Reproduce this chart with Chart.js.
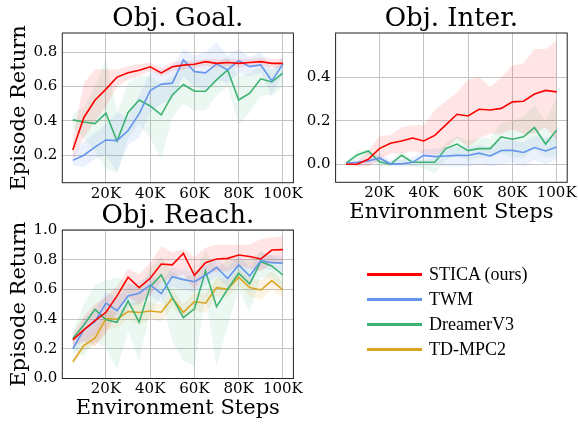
<!DOCTYPE html>
<html>
<head>
<meta charset="utf-8">
<script src="https://cdn.jsdelivr.net/npm/chart.js@4.4.1/dist/chart.umd.min.js"></script>
<style>
  body { margin: 0; background: #fff; }
  #wrap { position: relative; width: 578px; height: 424px; overflow: hidden; }
  canvas { position: absolute; left: 0; top: 0; pointer-events: none; }
  #legend { position: absolute; left: 367px; top: 262px; font-family: 'Liberation Serif', serif; font-size: 18px; color: #000; }
  .row { height: 25px; display: flex; align-items: center; }
  .swatch { width: 55px; height: 3px; margin-right: 7px; }
</style>
</head>
<body>
<div id="wrap">
  <canvas id="goalChart" width="578" height="424"></canvas>
  <canvas id="interChart" width="578" height="424"></canvas>
  <canvas id="reachChart" width="578" height="424"></canvas>
  <div id="legend"></div>
</div>
<script>
// Environment steps (thousands)
const steps = [5, 10, 15, 20, 25, 30, 35, 40, 45, 50, 55, 60, 65, 70, 75, 80, 85, 90, 95, 100];
const xTicks = [20, 40, 60, 80, 100];

const seriesNames = ['STICA (ours)', 'TWM', 'DreamerV3', 'TD-MPC2'];
const seriesColors = ['#ff0000', '#6495ed', '#3cb371', '#daa520'];
const bandColors = ['rgba(255,0,0,0.10)', 'rgba(100,149,237,0.12)', 'rgba(60,179,113,0.10)', 'rgba(218,165,32,0.12)'];

// Obj. Goal.
const goalTicks = [0.2, 0.4, 0.6, 0.8];
const goalStica   = [0.23, 0.42, 0.52, 0.585, 0.655, 0.68, 0.695, 0.715, 0.68, 0.715, 0.725, 0.73, 0.745, 0.735, 0.74, 0.735, 0.74, 0.745, 0.735, 0.735];
const goalSticaLo = [0.17, 0.30, 0.40, 0.48, 0.60, 0.64, 0.66, 0.69, 0.66, 0.69, 0.70, 0.71, 0.72, 0.71, 0.72, 0.71, 0.72, 0.72, 0.71, 0.71];
const goalSticaHi = [0.30, 0.62, 0.70, 0.70, 0.70, 0.72, 0.73, 0.74, 0.71, 0.74, 0.75, 0.75, 0.76, 0.76, 0.76, 0.76, 0.76, 0.77, 0.76, 0.76];
const goalTwm     = [0.17, 0.20, 0.247, 0.289, 0.285, 0.344, 0.441, 0.577, 0.614, 0.62, 0.755, 0.687, 0.68, 0.732, 0.697, 0.751, 0.716, 0.726, 0.633, 0.732];
const goalTwmLo   = [0.14, 0.13, 0.18, 0.20, 0.10, 0.26, 0.30, 0.45, 0.50, 0.52, 0.66, 0.60, 0.58, 0.64, 0.62, 0.68, 0.66, 0.68, 0.55, 0.68];
const goalTwmHi   = [0.20, 0.28, 0.33, 0.38, 0.45, 0.42, 0.55, 0.68, 0.70, 0.72, 0.82, 0.78, 0.80, 0.86, 0.78, 0.82, 0.77, 0.80, 0.70, 0.78];
const goalDv3     = [0.406, 0.394, 0.384, 0.445, 0.283, 0.449, 0.522, 0.487, 0.435, 0.551, 0.612, 0.573, 0.573, 0.639, 0.697, 0.522, 0.561, 0.645, 0.627, 0.678];
const goalDv3Lo   = [0.36, 0.30, 0.22, 0.12, 0.10, 0.30, 0.38, 0.30, 0.18, 0.42, 0.50, 0.46, 0.46, 0.55, 0.60, 0.38, 0.45, 0.55, 0.55, 0.60];
const goalDv3Hi   = [0.44, 0.48, 0.60, 0.76, 0.45, 0.62, 0.66, 0.66, 0.62, 0.66, 0.72, 0.68, 0.68, 0.73, 0.78, 0.66, 0.68, 0.72, 0.70, 0.74];

// Obj. Inter.
const interTicks = [0.0, 0.2, 0.4];
const interStica   = [0.0, 0.0, 0.023, 0.072, 0.097, 0.107, 0.121, 0.107, 0.133, 0.181, 0.23, 0.222, 0.253, 0.25, 0.257, 0.287, 0.29, 0.323, 0.34, 0.333];
const interSticaLo = [0.0, -0.01, -0.01, 0.02, 0.05, 0.05, 0.06, 0.05, 0.04, 0.07, 0.12, 0.08, 0.12, 0.14, 0.14, 0.16, 0.14, 0.14, 0.17, 0.11];
const interSticaHi = [0.005, 0.01, 0.06, 0.13, 0.135, 0.17, 0.18, 0.18, 0.25, 0.29, 0.33, 0.39, 0.40, 0.355, 0.40, 0.455, 0.465, 0.53, 0.53, 0.57];
const interTwm     = [0.005, 0.009, 0.015, 0.029, 0.002, 0.002, 0.009, 0.041, 0.035, 0.038, 0.041, 0.04, 0.051, 0.038, 0.063, 0.064, 0.054, 0.077, 0.061, 0.08];
const interTwmLo   = [0.0, 0.0, 0.0, 0.01, -0.01, -0.01, -0.01, 0.0, 0.0, -0.01, -0.01, -0.01, 0.0, -0.01, 0.0, 0.01, -0.01, 0.02, 0.0, 0.02];
const interTwmHi   = [0.01, 0.02, 0.03, 0.05, 0.02, 0.02, 0.03, 0.07, 0.07, 0.08, 0.08, 0.08, 0.09, 0.08, 0.11, 0.11, 0.10, 0.13, 0.12, 0.14];
const interDv3     = [0.005, 0.043, 0.061, 0.011, 0.0, 0.041, 0.009, 0.009, 0.009, 0.072, 0.093, 0.063, 0.072, 0.072, 0.126, 0.115, 0.126, 0.169, 0.093, 0.158];
const interDv3Lo   = [0.0, 0.02, 0.04, -0.01, -0.01, 0.01, -0.01, -0.02, -0.04, 0.02, 0.04, 0.02, 0.03, 0.03, 0.05, 0.03, 0.03, 0.07, 0.03, 0.04];
const interDv3Hi   = [0.01, 0.06, 0.07, 0.03, 0.01, 0.06, 0.02, 0.02, 0.03, 0.10, 0.13, 0.11, 0.12, 0.12, 0.19, 0.20, 0.22, 0.27, 0.20, 0.31];

// Obj. Reach.
const reachTicks = [0.0, 0.2, 0.4, 0.6, 0.8, 1.0];
const reachStica   = [0.26, 0.327, 0.39, 0.446, 0.556, 0.682, 0.612, 0.675, 0.771, 0.765, 0.843, 0.695, 0.78, 0.805, 0.809, 0.832, 0.821, 0.805, 0.865, 0.868];
const reachSticaLo = [0.22, 0.25, 0.22, 0.30, 0.45, 0.55, 0.50, 0.56, 0.65, 0.68, 0.70, 0.60, 0.70, 0.72, 0.72, 0.76, 0.74, 0.72, 0.78, 0.78];
const reachSticaHi = [0.30, 0.42, 0.50, 0.55, 0.62, 0.74, 0.70, 0.78, 0.89, 0.85, 0.87, 0.82, 0.88, 0.90, 0.90, 0.90, 0.90, 0.94, 0.95, 0.96];
const reachTwm     = [0.20, 0.33, 0.383, 0.507, 0.457, 0.556, 0.574, 0.63, 0.572, 0.686, 0.666, 0.652, 0.695, 0.749, 0.673, 0.765, 0.69, 0.794, 0.78, 0.776];
const reachTwmLo   = [0.16, 0.26, 0.30, 0.42, 0.38, 0.48, 0.50, 0.56, 0.50, 0.62, 0.60, 0.58, 0.63, 0.69, 0.61, 0.70, 0.63, 0.74, 0.73, 0.72];
const reachTwmHi   = [0.24, 0.40, 0.46, 0.58, 0.54, 0.63, 0.65, 0.70, 0.65, 0.75, 0.73, 0.72, 0.76, 0.81, 0.74, 0.83, 0.75, 0.85, 0.83, 0.83];
const reachDv3     = [0.269, 0.361, 0.466, 0.395, 0.379, 0.522, 0.379, 0.619, 0.697, 0.545, 0.41, 0.469, 0.724, 0.484, 0.601, 0.709, 0.637, 0.787, 0.758, 0.697];
const reachDv3Lo   = [0.20, 0.15, 0.25, 0.20, 0.06, 0.32, 0.12, 0.45, 0.55, 0.25, 0.12, 0.08, 0.55, 0.08, 0.35, 0.60, 0.45, 0.68, 0.68, 0.60];
const reachDv3Hi   = [0.32, 0.50, 0.63, 0.66, 0.68, 0.65, 0.60, 0.75, 0.82, 0.72, 0.68, 0.70, 0.86, 0.74, 0.80, 0.80, 0.80, 0.86, 0.82, 0.80];
const reachTdmpc   = [0.112, 0.222, 0.271, 0.404, 0.399, 0.451, 0.444, 0.455, 0.446, 0.54, 0.446, 0.518, 0.507, 0.612, 0.601, 0.682, 0.612, 0.596, 0.659, 0.596];
const reachTdmpcLo = [0.09, 0.19, 0.22, 0.33, 0.34, 0.40, 0.36, 0.40, 0.38, 0.48, 0.40, 0.46, 0.44, 0.55, 0.55, 0.63, 0.55, 0.53, 0.60, 0.54];
const reachTdmpcHi = [0.14, 0.26, 0.32, 0.46, 0.45, 0.50, 0.52, 0.51, 0.50, 0.60, 0.50, 0.58, 0.57, 0.68, 0.66, 0.74, 0.68, 0.66, 0.72, 0.65];

const FONT = 'DejaVu Serif';
Chart.defaults.color = '#000';
Chart.defaults.font.family = FONT;

// matplotlib-style box around the plot area
const frame = {
    id: 'frame',
    afterDraw(chart) {
        const a = chart.chartArea, ctx = chart.ctx;
        ctx.save();
        ctx.strokeStyle = '#222';
        ctx.lineWidth = 1;
        ctx.strokeRect(a.left, a.top, a.right - a.left, a.bottom - a.top);
        ctx.restore();
    }
};

function pts(vals) {
    return steps.map((s, i) => ({ x: s, y: vals[i] }));
}

function buildChart(id, opt) {
    const datasets = [];
    opt.series.forEach(s => {
        datasets.push({ data: pts(s.lo), borderWidth: 0, pointRadius: 0, fill: false, order: 10 });
        datasets.push({ data: pts(s.hi), borderWidth: 0, pointRadius: 0, fill: '-1',
                        backgroundColor: bandColors[s.c], order: 10 });
    });
    opt.series.forEach(s => {
        datasets.push({ data: pts(s.mean), borderColor: seriesColors[s.c], borderWidth: 1.6,
                        pointRadius: 0, fill: false, tension: 0, order: 1 + s.c });
    });

    const YW = opt.yTitle ? 55 : 30;
    const XH = opt.xTitle ? 41 : 20;
    const TH = 27;
    const a = opt.area;

    return new Chart(document.getElementById(id), {
        type: 'line',
        data: { datasets },
        plugins: [frame],
        options: {
            responsive: false,
            animation: false,
            events: [],
            layout: { padding: { left: a.l - YW, right: 578 - a.r, top: a.t - TH, bottom: 424 - a.b - XH } },
            plugins: {
                legend: { display: false },
                tooltip: { enabled: false },
                title: { display: true, text: opt.title, fullSize: false,
                         font: { size: 26, family: FONT, weight: 'normal', lineHeight: 1 },
                         padding: { top: 0, bottom: 1 }, color: '#000' }
            },
            scales: {
                x: {
                    type: 'linear', min: 0.25, max: 104.75,
                    afterBuildTicks: ax => { ax.ticks = xTicks.map(v => ({ value: v })); },
                    afterFit: ax => { ax.height = XH; ax.paddingLeft = 0; ax.paddingRight = 0; },
                    ticks: { callback: v => v + 'K', font: { size: 15, lineHeight: 1 }, padding: 3.5, maxRotation: 0, autoSkip: false },
                    grid: { color: '#c4c4c4', lineWidth: 1, drawTicks: false },
                    border: { display: false },
                    title: { display: !!opt.xTitle, text: 'Environment Steps', font: { size: 21, lineHeight: 1 }, padding: { top: 0, bottom: 0 } }
                },
                y: {
                    min: opt.yMin, max: opt.yMax,
                    afterBuildTicks: ax => { ax.ticks = opt.yTicks.map(v => ({ value: v })); },
                    afterFit: ax => { ax.width = YW; ax.paddingTop = 0; ax.paddingBottom = 0; },
                    ticks: { callback: v => v.toFixed(1), font: { size: 15, lineHeight: 1 }, padding: 5 },
                    grid: { color: '#c4c4c4', lineWidth: 1, drawTicks: false },
                    border: { display: false },
                    title: { display: !!opt.yTitle, text: 'Episode Return', font: { size: 21, lineHeight: 1 }, padding: { top: 1.5, bottom: 0 } }
                }
            }
        }
    });
}

buildChart('goalChart', {
    title: 'Obj. Goal.', area: { l: 62.3, r: 293.4, t: 33, b: 182.7 },
    yMin: 0.040, yMax: 0.912, yTicks: goalTicks, yTitle: true, xTitle: false,
    series: [
        { c: 0, mean: goalStica, lo: goalSticaLo, hi: goalSticaHi },
        { c: 1, mean: goalTwm, lo: goalTwmLo, hi: goalTwmHi },
        { c: 2, mean: goalDv3, lo: goalDv3Lo, hi: goalDv3Hi }
    ]
});

buildChart('interChart', {
    title: 'Obj. Inter.', area: { l: 335.6, r: 567.2, t: 33, b: 182.3 },
    yMin: -0.083, yMax: 0.604, yTicks: interTicks, yTitle: false, xTitle: true,
    series: [
        { c: 0, mean: interStica, lo: interSticaLo, hi: interSticaHi },
        { c: 1, mean: interTwm, lo: interTwmLo, hi: interTwmHi },
        { c: 2, mean: interDv3, lo: interDv3Lo, hi: interDv3Hi }
    ]
});

buildChart('reachChart', {
    title: 'Obj. Reach.', area: { l: 62.3, r: 293.4, t: 230, b: 378.5 },
    yMin: 0, yMax: 1, yTicks: reachTicks, yTitle: true, xTitle: true,
    series: [
        { c: 0, mean: reachStica, lo: reachSticaLo, hi: reachSticaHi },
        { c: 1, mean: reachTwm, lo: reachTwmLo, hi: reachTwmHi },
        { c: 2, mean: reachDv3, lo: reachDv3Lo, hi: reachDv3Hi },
        { c: 3, mean: reachTdmpc, lo: reachTdmpcLo, hi: reachTdmpcHi }
    ]
});

// Legend
const legend = document.getElementById('legend');
seriesNames.forEach((name, i) => {
    const row = document.createElement('div');
    row.className = 'row';
    row.innerHTML = '<span class="swatch" style="background:' + seriesColors[i] + '"></span><span>' + name + '</span>';
    legend.appendChild(row);
});
</script>
</body>
</html>
